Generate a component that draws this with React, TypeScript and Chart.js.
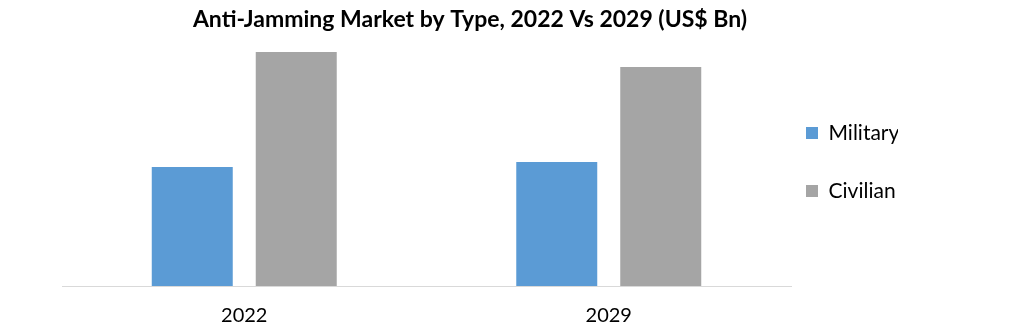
import React, { useEffect, useRef } from "react";
import { Chart, registerables } from "chart.js";

Chart.register(...registerables);

const categories = ["2022", "2029"];
const seriesNames = ["Military", "Civilian"];
const militaryValues = [1.19, 1.24];
const civilianValues = [2.34, 2.19];
const seriesColors = ["#5B9BD5", "#A5A5A5"];
const titleText = "Anti-Jamming Market by Type, 2022 Vs 2029 (US$ Bn)";

const FONT = "Lato";

export default function App() {
  const ref = useRef<HTMLCanvasElement | null>(null);

  useEffect(() => {
    if (!ref.current) return;
    const chart = new Chart(ref.current, {
      type: "bar",
      data: {
        labels: categories,
        datasets: [
          {
            label: seriesNames[0],
            data: militaryValues,
            backgroundColor: seriesColors[0],
            borderWidth: 0,
            categoryPercentage: 0.5706,
            barPercentage: 0.7788,
          },
          {
            label: seriesNames[1],
            data: civilianValues,
            backgroundColor: seriesColors[1],
            borderWidth: 0,
            categoryPercentage: 0.5706,
            barPercentage: 0.7788,
          },
        ],
      },
      options: {
        responsive: false,
        animation: false,
        layout: { padding: { left: 42, right: 126, top: 0, bottom: 5 } },
        plugins: {
          tooltip: { enabled: false },
          title: {
            display: true,
            text: titleText,
            color: "#000000",
            font: { family: FONT, size: 23, weight: "bold" },
            padding: { top: 5.4, bottom: 3 },
          },
          legend: {
            display: true,
            position: "right",
            align: "center",
            maxWidth: 100,
            labels: {
              color: "#000000",
              font: { family: FONT, size: 21 },
              boxWidth: 12,
              boxHeight: 12,
              padding: 8,
              generateLabels: (c: any) => {
                const base = Chart.defaults.plugins.legend.labels.generateLabels(c);
                const out: any[] = [];
                base.forEach((item: any, i: number) => {
                  if (i > 0) {
                    out.push({
                      text: "",
                      fillStyle: "rgba(0,0,0,0)",
                      strokeStyle: "rgba(0,0,0,0)",
                      lineWidth: 0,
                      hidden: false,
                      datasetIndex: -1,
                    });
                  }
                  out.push({ ...item, lineWidth: 0 });
                });
                return out;
              },
            },
          },
        },
        scales: {
          x: {
            type: "category",
            grid: { display: false, drawTicks: false },
            border: { display: true, color: "#D9D9D9", width: 1 },
            ticks: {
              color: "#000000",
              font: { family: FONT, size: 20 },
              padding: 17.5,
            },
            afterFit: (s: any) => {
              s.height = 38;
            },
          },
          y: {
            type: "linear",
            min: 0,
            max: 2.5,
            position: "left",
            grid: { display: false, drawTicks: false },
            border: { display: false },
            ticks: { display: false },
            afterFit: (s: any) => {
              s.width = 20;
            },
          },
          yRight: {
            type: "linear",
            position: "right",
            grid: { display: false, drawTicks: false },
            border: { display: false },
            ticks: { display: false },
            afterFit: (s: any) => {
              s.width = 7;
            },
          },
        },
      },
    });
    return () => chart.destroy();
  }, []);

  return (
    <div style={{ position: "absolute", left: 0, top: 0, width: 1024, height: 329, background: "#ffffff" }}>
      <canvas ref={ref} width={1024} height={329} style={{ display: "block" }} />
    </div>
  );
}
